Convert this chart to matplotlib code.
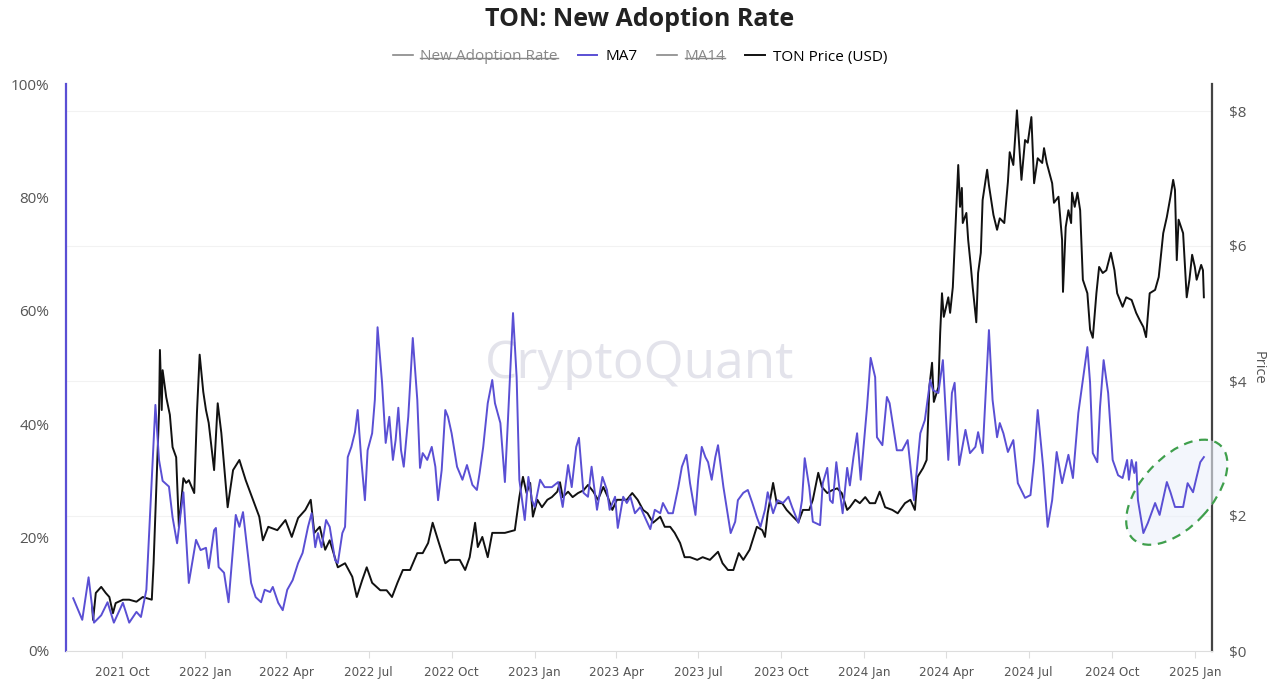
import pandas as pd
import numpy as np
import matplotlib
matplotlib.use("Agg")
import matplotlib.pyplot as plt
import matplotlib.dates as mdates
from matplotlib.lines import Line2D
from matplotlib.patches import Ellipse
from matplotlib.transforms import ScaledTranslation

plt.rcParams["font.family"] = ["Open Sans", "DejaVu Sans"]

# --- Data (days counted from 2021-10-01) ---
base = pd.Timestamp("2021-10-01")

ma7_days = [-54, -44, -37, -31, -23, -16, -9, 1, 8, 16, 21, 27, 32, 37, 41, 45, 52, 56, 61, 65,
            68, 74, 82, 87, 93, 96, 102, 104, 107, 113, 118, 126, 130, 134, 143, 148, 154, 158, 164, 167,
            173, 178, 183, 189, 195, 200, 206, 210, 214, 217, 221, 226, 230, 236, 239, 244, 247, 250, 254, 258,
            261, 265, 269, 272, 277, 280, 283, 288, 292, 296, 300, 303, 306, 309, 312, 317, 322, 327, 330, 333,
            338, 343, 347, 350, 354, 358, 361, 365, 371, 377, 382, 388, 393, 396, 400, 405, 410, 413, 419, 424,
            427, 433, 437, 440, 443, 446, 450, 454, 457, 463, 468, 476, 483, 488, 494, 498, 503, 506, 511, 516,
            520, 526, 532, 537, 540, 546, 549, 555, 559, 563, 568, 574, 579, 585, 590, 596, 599, 605, 610, 616,
            620, 625, 629, 635, 638, 642, 646, 649, 653, 657, 660, 666, 674, 679, 682, 688, 693, 698, 703, 707,
            712, 715, 721, 726, 732, 738, 742, 749, 753, 756, 761, 765, 773, 776, 781, 784, 787, 791, 795, 798,
            803, 806, 810, 814, 818, 825, 829, 834, 836, 842, 847, 850, 858, 864, 870, 877, 884, 889, 895, 898,
            904, 909, 915, 919, 922, 927, 934, 939, 945, 948, 953, 956, 960, 964, 969, 972, 976, 981, 987, 992,
            1000, 1006, 1010, 1014, 1020, 1025, 1030, 1035, 1041, 1048, 1053, 1059, 1064, 1069, 1072, 1075, 1080, 1083, 1087, 1092,
            1097, 1103, 1108, 1113, 1115, 1118, 1121, 1123, 1125, 1131, 1136, 1144, 1149, 1157, 1161, 1166, 1175, 1180, 1186, 1190,
            1194, 1198]
ma7_pct = [9.3, 5.5, 13, 5, 6.3, 8.6, 5, 8.5, 5, 6.9, 6, 10.8, 27, 43.4, 33.7, 30, 29, 23.6, 19, 24.3,
           28, 12, 19.6, 17.8, 18.2, 14.6, 21.3, 21.7, 14.8, 13.8, 8.6, 24, 21.9, 24.5, 12, 9.5, 8.6, 10.8, 10.4, 11.3,
           8.5, 7.2, 10.8, 12.5, 15.5, 17.3, 21.9, 24.3, 18.3, 20.8, 18.3, 23.1, 21.9, 16, 15.5, 20.8, 21.9, 34.2, 36, 38.6,
           42.5, 33.7, 26.6, 35.4, 38.4, 44.3, 57.1, 47.3, 36.7, 41.3, 33.7, 37.2, 42.9, 35.4, 32.5, 41.3, 55.2, 44.3, 32.3, 34.9,
           33.7, 36, 32.5, 26.6, 31.9, 42.5, 41.3, 38.4, 32.5, 30.2, 32.8, 29.3, 28.4, 31.4, 36, 43.7, 47.8, 43.7, 40.2, 29.8,
           39.5, 59.6, 48.3, 30.2, 26.6, 23.1, 30.7, 26.6, 25.4, 30.2, 28.9, 28.9, 29.8, 25.4, 32.8, 28.9, 36, 37.6, 27.9, 27.2,
           32.5, 24.9, 30.7, 28.4, 24.9, 27.2, 21.7, 27.2, 26.1, 27.2, 24.3, 25.4, 23.6, 21.5, 24.9, 24.3, 26.1, 24.3, 24.3, 28.9,
           32.5, 34.6, 29.6, 24, 30.2, 36, 34.2, 33.3, 30.2, 34.2, 36.3, 28.9, 20.8, 22.8, 26.6, 27.9, 28.4, 26.1, 23.6, 21.9,
           24.9, 28, 24.3, 26.6, 26.1, 27.2, 25.4, 22.6, 26.6, 34, 28.9, 22.8, 22.2, 29.6, 32.3, 26.6, 26.1, 33.3, 27.9, 24.3,
           32.3, 29.2, 34.2, 38.4, 30.2, 43, 51.7, 48.3, 37.7, 36.3, 44.8, 43.7, 35.4, 35.4, 37.2, 26.6, 38.4, 40.7, 47.8, 46,
           45.5, 51.3, 33.7, 45.5, 47.3, 32.8, 39, 34.9, 36, 38.6, 34.9, 44.3, 56.6, 44.3, 37.7, 40.2, 38.4, 35.1, 37.2, 29.6,
           27, 27.5, 33.7, 42.5, 32.5, 21.9, 26.6, 35.1, 29.6, 34.6, 30.5, 42, 47.8, 53.6, 47.3, 34.9, 33.3, 43, 51.3, 45.5,
           33.7, 31, 30.5, 33.7, 30.2, 33.7, 31.4, 33.3, 26.6, 20.8, 22.6, 26.1, 24, 29.8, 28, 25.4, 25.4, 29.6, 28, 30.7,
           33.3, 34.2]

price_days = [-33, -32, -29, -23, -18, -14, -10, -7, 1, 8, 16, 23, 33, 35, 39, 41, 42, 44, 45, 49,
              53, 56, 60, 63, 68, 71, 74, 80, 83, 86, 90, 93, 96, 102, 106, 110, 117, 123, 130, 137,
              145, 152, 156, 162, 172, 181, 188, 195, 203, 209, 213, 219, 225, 230, 239, 247, 255, 260, 266, 271,
              277, 286, 293, 299, 305, 311, 319, 327, 333, 339, 344, 350, 358, 363, 371, 374, 380, 385, 391, 394,
              399, 405, 410, 415, 424, 435, 440, 444, 448, 452, 455, 460, 465, 471, 476, 482, 485, 488, 494, 499,
              505, 511, 516, 522, 527, 533, 538, 543, 548, 554, 559, 565, 571, 577, 582, 588, 596, 601, 607, 612,
              618, 623, 629, 637, 643, 651, 660, 665, 671, 677, 683, 688, 695, 703, 709, 712, 715, 721, 725, 731,
              736, 743, 749, 754, 761, 765, 771, 775, 781, 786, 792, 797, 803, 806, 812, 817, 823, 828, 834, 839,
              845, 853, 859, 867, 873, 878, 881, 887, 891, 894, 897, 899, 904, 906, 908, 910, 915, 917, 920, 924,
              926, 928, 930, 931, 935, 937, 940, 942, 946, 948, 951, 953, 958, 960, 965, 969, 972, 977, 981, 983,
              987, 991, 996, 1000, 1003, 1007, 1010, 1014, 1019, 1021, 1024, 1030, 1032, 1037, 1041, 1042, 1045, 1048, 1051, 1052,
              1055, 1058, 1061, 1064, 1069, 1072, 1075, 1079, 1082, 1086, 1090, 1095, 1099, 1102, 1108, 1112, 1118, 1123, 1127, 1131,
              1134, 1138, 1144, 1148, 1153, 1157, 1161, 1164, 1166, 1168, 1170, 1175, 1179, 1182, 1185, 1188, 1190, 1195, 1197, 1198]
price_usd = [0.65, 0.46, 0.86, 0.95, 0.86, 0.80, 0.56, 0.71, 0.76, 0.76, 0.73, 0.80, 0.76, 1.30, 2.79, 3.53, 4.46, 3.57, 4.16, 3.76,
             3.50, 3.02, 2.87, 1.84, 2.56, 2.49, 2.53, 2.34, 3.53, 4.39, 3.84, 3.57, 3.38, 2.68, 3.67, 3.23, 2.13, 2.68, 2.83, 2.53,
             2.24, 1.99, 1.64, 1.84, 1.79, 1.94, 1.69, 1.97, 2.09, 2.24, 1.75, 1.84, 1.50, 1.64, 1.24, 1.30, 1.10, 0.80, 1.05, 1.24,
             1.01, 0.90, 0.90, 0.80, 1.01, 1.20, 1.20, 1.45, 1.45, 1.60, 1.90, 1.64, 1.30, 1.35, 1.35, 1.35, 1.20, 1.39, 1.90, 1.54,
             1.69, 1.39, 1.75, 1.75, 1.75, 1.79, 2.28, 2.58, 2.34, 2.49, 1.99, 2.24, 2.13, 2.24, 2.28, 2.36, 2.50, 2.28, 2.36, 2.28,
             2.34, 2.38, 2.46, 2.36, 2.24, 2.43, 2.28, 2.09, 2.24, 2.24, 2.24, 2.34, 2.24, 2.09, 2.04, 1.90, 1.99, 1.84, 1.84, 1.75,
             1.60, 1.39, 1.39, 1.35, 1.39, 1.35, 1.47, 1.30, 1.20, 1.20, 1.45, 1.35, 1.50, 1.84, 1.79, 1.69, 2.04, 2.49, 2.19, 2.19,
             2.09, 1.99, 1.91, 2.09, 2.09, 2.24, 2.64, 2.43, 2.34, 2.38, 2.41, 2.34, 2.09, 2.13, 2.24, 2.19, 2.28, 2.19, 2.19, 2.36,
             2.13, 2.09, 2.04, 2.19, 2.24, 2.09, 2.58, 2.71, 2.83, 3.91, 4.27, 3.69, 3.91, 4.71, 5.30, 4.95, 5.24, 5.01, 5.39, 6.58,
             7.20, 6.58, 6.86, 6.34, 6.49, 6.09, 5.69, 5.39, 4.87, 5.60, 5.90, 6.68, 7.13, 6.90, 6.46, 6.24, 6.41, 6.34, 6.95, 7.39,
             7.20, 8.01, 6.98, 7.57, 7.53, 7.91, 6.93, 7.30, 7.23, 7.45, 7.23, 6.93, 6.64, 6.73, 6.09, 5.32, 6.28, 6.53, 6.34, 6.79,
             6.58, 6.79, 6.53, 5.50, 5.30, 4.76, 4.64, 5.30, 5.69, 5.60, 5.64, 5.90, 5.64, 5.30, 5.10, 5.24, 5.20, 5.01, 4.90, 4.80,
             4.65, 5.30, 5.35, 5.54, 6.19, 6.43, 6.73, 6.98, 6.83, 5.79, 6.39, 6.19, 5.24, 5.50, 5.87, 5.69, 5.50, 5.72, 5.64, 5.24]

legend_labels = ["New Adoption Rate", "MA7", "MA14", "TON Price (USD)"]
pct_ticks = [0, 20, 40, 60, 80, 100]
price_ticks = [0, 2, 4, 6, 8]

ma7_dates = base + pd.to_timedelta(ma7_days, unit="D")
price_dates = base + pd.to_timedelta(price_days, unit="D")

purple = "#5a4fd4"
grey_txt = "#555555"

# --- Figure ---
fig = plt.figure(figsize=(12.8, 6.82), dpi=100)
ax = fig.add_axes([66 / 1280, 1 - 651 / 682, (1212 - 66) / 1280, (651 - 84) / 682])
ax2 = ax.twinx()

ax.set_zorder(2)
ax.patch.set_visible(False)

ax.plot(ma7_dates, ma7_pct, color=purple, lw=1.4, zorder=3)
ax2.plot(price_dates, price_usd, color="#111111", lw=1.4, zorder=3)

ax.set_ylim(0, 100)
ax2.set_ylim(0, 8.4)
ax.set_xlim(base + pd.Timedelta(days=-62), base + pd.Timedelta(days=1207))

ax.set_yticks(pct_ticks)
ax.set_yticklabels([f"{t}%" for t in pct_ticks])
ax2.set_yticks(price_ticks)
ax2.set_yticklabels([f"${t}" for t in price_ticks])
ax2.set_ylabel("Price", rotation=270, labelpad=14, color=grey_txt, fontsize=10.5)

ax.tick_params(axis="y", length=0, pad=12, labelsize=11, labelcolor=grey_txt)
ax2.tick_params(axis="y", length=0, pad=12, labelsize=11, labelcolor=grey_txt)

ax.xaxis.set_major_locator(mdates.MonthLocator(bymonth=[1, 4, 7, 10]))
ax.xaxis.set_major_formatter(mdates.DateFormatter("%Y %b"))
ax.tick_params(axis="x", length=5, color="#dddddd", pad=6, labelsize=9.5, labelcolor=grey_txt)
for lab in ax.get_xticklabels():
    lab.set_family("DejaVu Sans")
    lab.set_stretch("condensed")

# gridlines follow the price axis
ax2.grid(axis="y", color="#f2f2f2", lw=0.8)
ax2.set_axisbelow(True)

for a in (ax, ax2):
    a.spines["top"].set_visible(False)
ax.spines["left"].set_color(purple)
ax.spines["left"].set_linewidth(1.6)
ax2.spines["left"].set_visible(False)
ax.spines["right"].set_visible(False)
ax2.spines["right"].set_color("#444444")
ax2.spines["right"].set_linewidth(1.6)
ax.spines["bottom"].set_color("#dddddd")
ax2.spines["bottom"].set_visible(False)

# watermark
fig.text(640 / 1280, 1 - 365 / 682, "CryptoQuant", ha="center", va="center",
         fontsize=37, fontweight="medium", color="#e3e3eb", zorder=0)

# title
fig.text(0.5, 1 - 20 / 682, "TON: New Adoption Rate", ha="center", va="center",
         fontsize=18, fontweight="bold", color="#222222")

# legend
handles = [Line2D([], [], color="#888888", lw=1.2),
           Line2D([], [], color=purple, lw=1.4),
           Line2D([], [], color="#888888", lw=1.2),
           Line2D([], [], color="#111111", lw=1.4)]
leg = fig.legend(handles, legend_labels, loc="center", bbox_to_anchor=(0.5, 1 - 57 / 682),
                 ncol=4, frameon=False, fontsize=11, handlelength=1.3, handletextpad=0.5,
                 columnspacing=1.3)
for i in (0, 2):
    leg.get_texts()[i].set_color("#888888")
fig.canvas.draw()
rend = fig.canvas.get_renderer()
for i in (0, 2):
    bb = leg.get_texts()[i].get_window_extent(rend)
    ymid = (bb.y0 + bb.y1) / 2 - 1
    fig.add_artist(Line2D([bb.x0 / 1280, bb.x1 / 1280], [ymid / 682, ymid / 682],
                          transform=fig.transFigure, color="#888888", lw=1))

# highlighted region
cx = base + pd.Timedelta(days=1168)
ell = Ellipse((0, 0), 1.28, 0.70, angle=47,
              transform=fig.dpi_scale_trans + ScaledTranslation(mdates.date2num(cx), 28, ax.transData),
              facecolor=(0.92, 0.94, 0.98, 0.6), edgecolor="#3f9f4c", ls=(0, (4, 3)), lw=1.6,
              clip_on=False, zorder=1)
ax.add_patch(ell)

fig.savefig("out.png", dpi=100)
